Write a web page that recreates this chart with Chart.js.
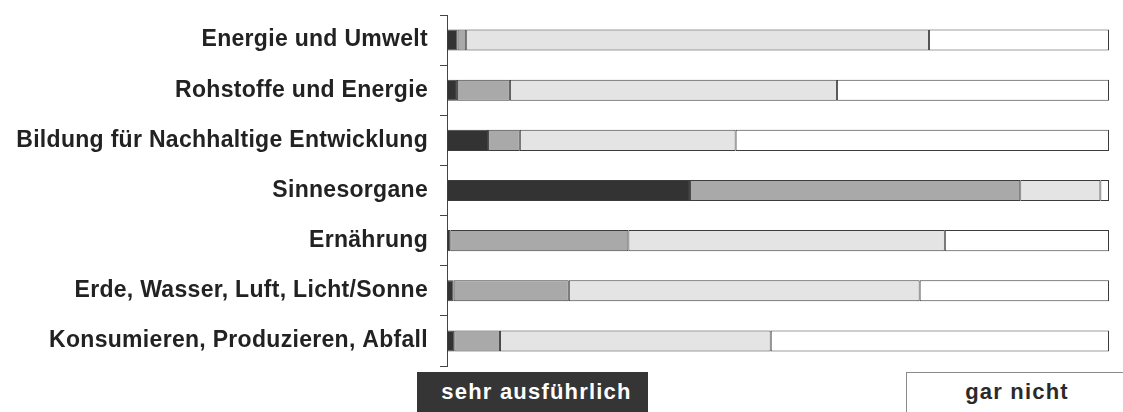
<!DOCTYPE html>
<html>
<head>
<meta charset="utf-8">
<script src="https://cdn.jsdelivr.net/npm/chart.js@4.4.1/dist/chart.umd.min.js"></script>
<style>
  html, body { margin: 0; padding: 0; background: #fff; overflow: hidden; }
  #wrap { position: relative; width: 1123px; height: 412px; }
  #c { position: absolute; left: 0; top: 0; }
  .lg { position: absolute; box-sizing: border-box; font-family: "Liberation Sans", Arial, sans-serif;
        font-weight: bold; font-size: 22px; letter-spacing: 1.2px; line-height: 26px; text-align: center; white-space: nowrap; }
  #lgDark { left: 417px; top: 372px; width: 231px; height: 40px; background: #353535; color: #fff; padding-top: 7px; padding-left: 8px; }
  #lgWhite { left: 906px; top: 372px; width: 222px; height: 42px; background: #fff; color: #2a2a2a;
             border: 1px solid #8a8a8a; padding-top: 6px; }
</style>
</head>
<body>
<div id="wrap">
  <canvas id="c" width="1123" height="412"></canvas>
  <div class="lg" id="lgDark">sehr ausführlich</div>
  <div class="lg" id="lgWhite">gar nicht</div>
</div>
<script>
const categories = [
  "Energie und Umwelt",
  "Rohstoffe und Energie",
  "Bildung für Nachhaltige Entwicklung",
  "Sinnesorgane",
  "Ernährung",
  "Erde, Wasser, Luft, Licht/Sonne",
  "Konsumieren, Produzieren, Abfall"
];
const seriesNames = ["sehr ausführlich", "eher ausführlich", "eher kurz", "gar nicht"];
const sehrAusfuehrlich = [1.6, 1.5, 6.2, 36.7, 0.5, 1.0, 1.1];
const eherAusfuehrlich = [1.3, 8.0, 4.8, 49.9, 26.9, 17.4, 6.9];
const eherKurz         = [69.9, 49.4, 32.6, 12.1, 47.8, 53.0, 40.9];
const garNicht         = [27.2, 41.1, 56.4, 1.3, 24.8, 28.6, 51.1];
const seriesColors = ["#333333", "#a9a9a9", "#e4e4e4", "#ffffff"];

const seriesValues = [sehrAusfuehrlich, eherAusfuehrlich, eherKurz, garNicht];

const letterSpacingPlugin = {
  id: 'ls',
  beforeDraw(chart) { try { chart.ctx.letterSpacing = '0.3px'; } catch (e) {} }
};

new Chart(document.getElementById('c'), {
  type: 'bar',
  data: {
    labels: categories,
    datasets: seriesValues.map((vals, i) => ({
      label: seriesNames[i],
      data: vals,
      backgroundColor: seriesColors[i],
      borderColor: '#3c3c3c',
      borderWidth: 1,
      borderSkipped: false,
      barPercentage: 0.42,
      categoryPercentage: 1.0
    }))
  },
  options: {
    indexAxis: 'y',
    responsive: false,
    animation: false,
    events: [],
    layout: { padding: { left: 0, right: 14, top: 15, bottom: 46 } },
    plugins: { legend: { display: false }, tooltip: { enabled: false } },
    scales: {
      x: { stacked: true, min: 0, max: 100, display: false },
      y: {
        stacked: true,
        afterFit(scale) { scale.width = 447; scale.paddingTop = 0; scale.paddingBottom = 0; },
        grid: { drawOnChartArea: false, drawTicks: true, tickLength: 7, color: '#444', offset: true },
        border: { display: true, color: '#444', width: 1 },
        ticks: {
          padding: 12,
          color: '#222',
          font: { family: '"Liberation Sans", Arial, sans-serif', size: 23, weight: 'bold' }
        }
      }
    }
  },
  plugins: [letterSpacingPlugin]
});
</script>
</body>
</html>
